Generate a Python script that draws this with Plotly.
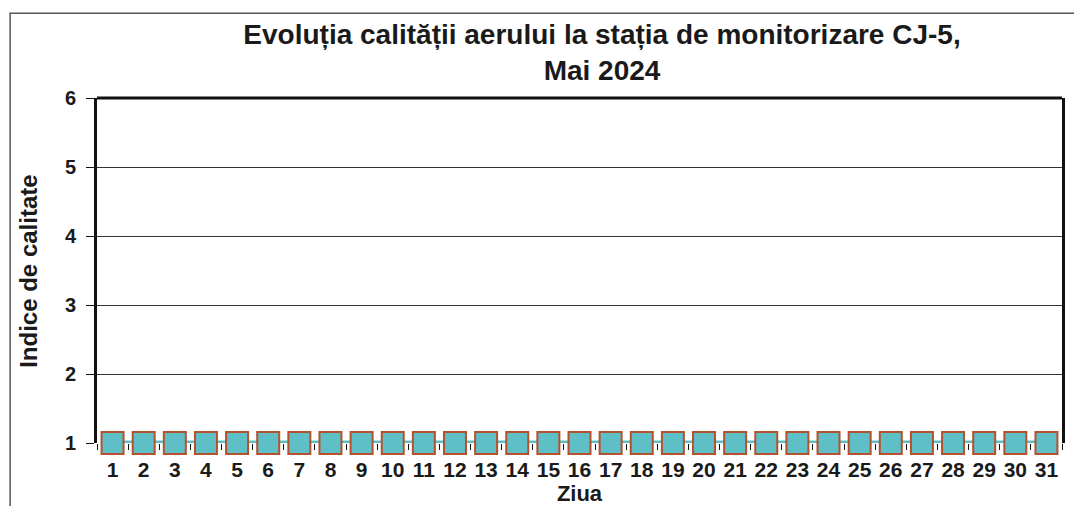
import plotly.graph_objects as go

days = [str(d) for d in range(1, 32)]
index_values = [1] * 31
y_ticks = [1, 2, 3, 4, 5, 6]

font_family = "Liberation Sans, Arial, sans-serif"

fig = go.Figure()
fig.add_trace(go.Scatter(
    x=days, y=index_values, mode="lines+markers",
    line=dict(color="#5fbfc6", width=5),
    marker=dict(symbol="square", size=22, color="#5fbfc6",
                line=dict(color="#b5512c", width=2)),
    cliponaxis=False, showlegend=False,
))

fig.update_layout(
    width=1082, height=506,
    paper_bgcolor="white", plot_bgcolor="white",
    margin=dict(l=89, r=28, t=90, b=71, autoexpand=False),
    font=dict(family=font_family, color="#1a1a1a"),
    title=dict(
        text="<b>Evoluția calității aerului la stația de monitorizare CJ-5,<br>Mai 2024</b>",
        x=0.549, xanchor="center", y=0.929, yanchor="middle",
        font=dict(size=28, family=font_family, color="#1a1a1a"),
    ),
    xaxis=dict(
        type="category", categoryorder="array", categoryarray=days,
        range=[-0.5, len(days) - 0.5], autorange=False,
        automargin=False, tickangle=0,
        showline=False,
        ticks="outside", tickson="boundaries", ticklen=6, tickcolor="#111",
        ticklabelstandoff=12,
        tickfont=dict(size=21, family=font_family, color="#1a1a1a", weight="bold"),
        showgrid=False, layer="below traces",
        title=dict(text="<b>Ziua</b>", font=dict(size=22, family=font_family), standoff=1),
    ),
    yaxis=dict(
        range=[1, 6], tickvals=y_ticks, automargin=False,
        showline=True, mirror=True, linecolor="#111", linewidth=3,
        ticks="outside", ticklen=8, tickcolor="#111", ticklabelstandoff=6,
        tickfont=dict(size=20, family=font_family, color="#1a1a1a", weight="bold"),
        showgrid=True, gridcolor="#333", gridwidth=1,
        zeroline=False, layer="below traces",
    ),
    annotations=[dict(
        text="<b>Indice de calitate</b>", textangle=-90,
        xref="paper", yref="paper", x=-0.0705, y=0.499,
        xanchor="center", yanchor="middle", showarrow=False,
        font=dict(size=24, family=font_family, color="#1a1a1a"),
    )],
    shapes=[
        dict(type="rect", xref="paper", yref="paper",
             x0=-0.090, x1=1.05, y0=-0.3, y1=1.246,
             line=dict(color="#555", width=1.5), layer="below"),
        dict(type="line", xref="paper", yref="paper",
             x0=0, x1=1, y0=1, y1=1,
             line=dict(color="#111", width=3), layer="above"),
    ],
)

fig.write_html("out.html")
